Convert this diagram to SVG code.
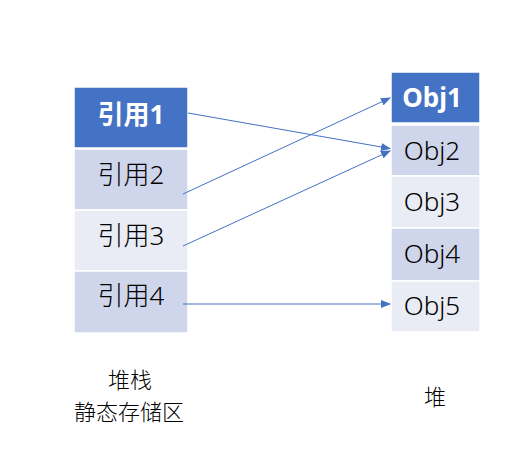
<svg xmlns="http://www.w3.org/2000/svg" width="524" height="451" viewBox="0 0 524 451">
<style>
  .box { stroke: #FFFFFF; stroke-width: 1.5; }
  .dark { fill: #4472C4; }
  .mid { fill: #CFD5EA; }
  .light { fill: #E9EBF5; }
  .t { font-family: "Noto Sans", "Noto Sans CJK SC", sans-serif; font-size: 26px; font-weight: 300; text-anchor: middle; fill: #000000; }
  .tw { fill: #FFFFFF; font-weight: bold; }
  .cap { font-family: "Noto Sans CJK SC", sans-serif; font-size: 22px; font-weight: 300; text-anchor: middle; fill: #000000; }
  .conn { stroke: #4472C4; stroke-width: 1; fill: none; marker-end: url(#ah); }
</style>
<defs>
  <marker id="ah" markerWidth="10" markerHeight="8" refX="9" refY="4" orient="auto" markerUnits="userSpaceOnUse">
    <path d="M0,0 L10,4 L0,8 Z" fill="#4472C4"/>
  </marker>
</defs>
<rect width="524" height="451" fill="#FFFFFF"/>
<g id="ref1"><rect class="box dark" x="74" y="87" width="114" height="61"/><text class="t tw" x="131" y="124">引用1</text></g>
<g id="ref2"><rect class="box mid" x="74" y="149" width="114" height="61"/><text class="t" x="131" y="184">引用2</text></g>
<g id="ref3"><rect class="box light" x="74" y="210" width="114" height="61"/><text class="t" x="131" y="245">引用3</text></g>
<g id="ref4"><rect class="box mid" x="74" y="271" width="114" height="62"/><text class="t" x="131" y="305">引用4</text></g>
<g id="obj1"><rect class="box dark" x="391" y="72" width="89" height="51"/><text class="t tw" x="432" y="107">Obj1</text></g>
<g id="obj2"><rect class="box mid" x="391" y="125" width="89" height="51"/><text class="t" x="432" y="160">Obj2</text></g>
<g id="obj3"><rect class="box light" x="391" y="176" width="89" height="52"/><text class="t" x="432" y="211">Obj3</text></g>
<g id="obj4"><rect class="box mid" x="391" y="228" width="89" height="53"/><text class="t" x="432" y="263">Obj4</text></g>
<g id="obj5"><rect class="box light" x="391" y="281" width="89" height="51"/><text class="t" x="432" y="315">Obj5</text></g>
<g id="labels">
  <text class="cap" x="130" y="388">堆栈</text>
  <text class="cap" x="129" y="420">静态存储区</text>
  <text class="cap" x="435" y="405">堆</text>
</g>
<g id="connectors">
  <line class="conn" x1="188" y1="113" x2="390" y2="148.5"/>
  <line class="conn" x1="183" y1="194" x2="390" y2="98"/>
  <line class="conn" x1="183" y1="246" x2="390" y2="151"/>
  <line class="conn" x1="183" y1="304" x2="390" y2="304"/>
</g>
</svg>
